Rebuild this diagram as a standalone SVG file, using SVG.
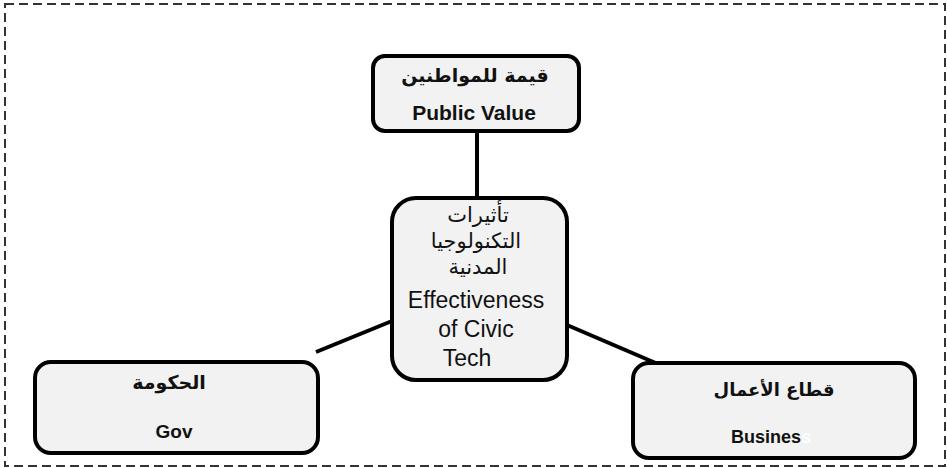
<svg xmlns="http://www.w3.org/2000/svg" width="947" height="468" viewBox="0 0 947 468">
<style>
.frame{fill:none;stroke:#333;stroke-width:2;stroke-dasharray:9 5}
.box{fill:#f2f2f2;stroke:#000;stroke-width:4}
.conn{stroke:#000;stroke-width:4;fill:none}
.lbl{font-family:"DejaVu Sans","Liberation Sans",sans-serif;font-weight:bold;fill:#111;text-anchor:middle}
.en{font-family:"Liberation Sans",sans-serif;font-weight:bold;fill:#111;text-anchor:middle}
.ctr{font-family:"Liberation Sans","DejaVu Sans",sans-serif;font-size:23px;fill:#111;text-anchor:middle}
.ar{font-family:"DejaVu Sans",sans-serif;font-size:21px;fill:#111;text-anchor:middle}
</style>
<rect width="947" height="468" fill="#fff"/>
<rect class="frame" x="5" y="4" width="940" height="462"/>
<g id="connectors">
<line class="conn" x1="477" y1="131" x2="477" y2="199"/>
<line class="conn" x1="316" y1="352" x2="392" y2="321"/>
<line class="conn" x1="567" y1="325" x2="658" y2="364"/>
</g>
<g id="node-public-value">
<rect class="box" x="373" y="56" width="206" height="75" rx="12"/>
<text class="lbl" x="475" y="82" font-size="19" direction="rtl">قيمة للمواطنين</text>
<text class="en" x="474" y="120" font-size="21">Public Value</text>
</g>
<g id="node-center">
<rect class="box" x="392" y="198" width="175" height="182" rx="24"/>
<text class="ar" x="478" y="222" direction="rtl">تأثيرات</text>
<text class="ar" x="476" y="248" direction="rtl">التكنولوجيا</text>
<text class="ar" x="478" y="274" direction="rtl">المدنية</text>
<text class="ctr" x="476" y="308">Effectiveness</text>
<text class="ctr" x="476" y="337">of Civic</text>
<text class="ctr" x="467" y="366">Tech</text>
</g>
<g id="node-gov">
<rect class="box" x="35" y="362" width="283" height="91" rx="16"/>
<text class="lbl" x="169" y="389" font-size="19" direction="rtl">الحكومة</text>
<text class="en" x="174" y="438" font-size="19">Gov</text>
</g>
<g id="node-business">
<rect class="box" x="633" y="363" width="282" height="95" rx="16"/>
<text class="lbl" x="774" y="396" font-size="18" direction="rtl">قطاع الأعمال</text>
<text class="en" x="771" y="443" font-size="18"><tspan>Busines</tspan><tspan fill="#fff">s</tspan></text>
</g>
</svg>
